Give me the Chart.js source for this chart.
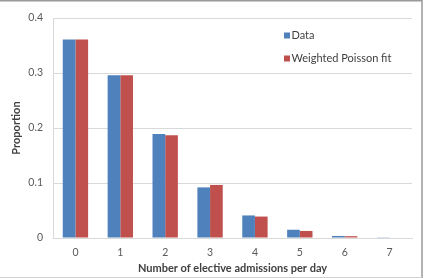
<!DOCTYPE html>
<html>
<head>
<meta charset="utf-8">
<script src="https://cdn.jsdelivr.net/npm/chart.js@4/dist/chart.umd.min.js"></script>
<style>
html,body{margin:0;padding:0;background:#fff;}
canvas{display:block;}
</style>
</head>
<body>
<canvas id="c" width="426" height="278"></canvas>
<script>
const categories = ["0","1","2","3","4","5","6","7"];
const dataValues = [0.361, 0.296, 0.189, 0.092, 0.041, 0.015, 0.0037, 0.0005];
const poissonValues = [0.361, 0.296, 0.187, 0.0965, 0.039, 0.0128, 0.0033, 0.0009];
const yTicks = [0, 0.1, 0.2, 0.3, 0.4];
const seriesLabels = ["Data", "Weighted Poisson fit"];
const seriesColors = ["#4f81bd", "#c0504d"];

const FONT = "Lato, 'Open Sans', sans-serif";

const insideLegend = {
  id: 'insideLegend',
  afterDraw(chart) {
    const ctx = chart.ctx;
    ctx.save();
    ctx.font = "11px " + FONT;
    ctx.textBaseline = 'middle';
    chart.data.datasets.forEach((ds, i) => {
      const y = 35.5 + i * 23;
      ctx.fillStyle = ds.backgroundColor;
      ctx.fillRect(284, y - 3, 6, 6);
      ctx.fillStyle = '#404040';
      ctx.fillText(ds.label, 291.5, y);
    });
    ctx.restore();
  }
};

const frame = {
  id: 'frame',
  afterDraw(chart) {
    const ctx = chart.ctx;
    ctx.save();
    ctx.strokeStyle = '#9a9a9a';
    ctx.lineWidth = 1.5;
    ctx.beginPath();
    ctx.moveTo(0, 0.75); ctx.lineTo(422, 0.75);
    ctx.moveTo(422, 0); ctx.lineTo(422, 278);
    ctx.stroke();
    ctx.strokeStyle = '#d0d0d0';
    ctx.lineWidth = 1;
    ctx.beginPath();
    ctx.moveTo(0, 277.5); ctx.lineTo(422, 277.5);
    ctx.stroke();
    ctx.restore();
  }
};

new Chart(document.getElementById('c'), {
  type: 'bar',
  data: {
    labels: categories,
    datasets: [
      { label: seriesLabels[0], data: dataValues, backgroundColor: seriesColors[0], barPercentage: 1, categoryPercentage: 0.565 },
      { label: seriesLabels[1], data: poissonValues, backgroundColor: seriesColors[1], barPercentage: 1, categoryPercentage: 0.565 }
    ]
  },
  options: {
    responsive: false,
    animation: false,
    layout: { padding: { top: 18, right: 14, bottom: 0, left: 0 } },
    plugins: { legend: { display: false }, tooltip: { enabled: false } },
    scales: {
      x: {
        grid: { display: false, drawTicks: false },
        border: { display: true, color: '#d9d9d9' },
        ticks: { color: '#595959', font: { family: FONT, size: 10.5 }, padding: 8 },
        title: { display: true, text: 'Number of elective admissions per day', color: '#404040', font: { family: FONT, size: 11, weight: 'bold' }, padding: { top: 0, bottom: 3 } },
        afterFit(s) { s.height = 40; }
      },
      y: {
        min: 0, max: 0.4,
        afterBuildTicks(s) { s.ticks = yTicks.map(v => ({ value: v })); },
        grid: { color: '#d9d9d9', drawTicks: false },
        border: { display: true, color: '#d9d9d9' },
        ticks: { color: '#595959', font: { family: FONT, size: 10.5 }, padding: 10, callback: v => String(v) },
        title: { display: true, text: 'Proportion', color: '#404040', font: { family: FONT, size: 11, weight: 'bold' }, padding: { top: 10, bottom: 0 } },
        afterFit(s) { s.width = 53; }
      }
    }
  },
  plugins: [insideLegend, frame]
});
</script>
</body>
</html>
